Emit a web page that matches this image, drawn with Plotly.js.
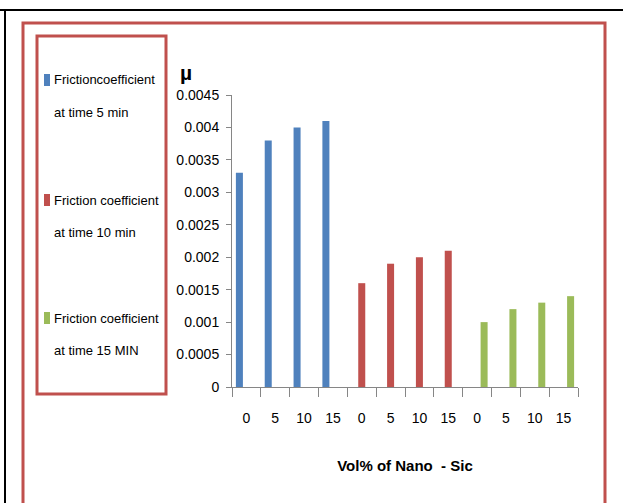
<!DOCTYPE html>
<html>
<head>
<meta charset="utf-8">
<script src="https://cdn.plot.ly/plotly-3.0.1.min.js"></script>
<style>html,body{margin:0;padding:0;background:#fff;}#chart{width:623px;height:503px;}</style>
</head>
<body>
<div id="chart"></div>
<script>
// ---- data ----
var tickLabels = ["0","5","10","15","0","5","10","15","0","5","10","15"];
var xIndex = [0,1,2,3,4,5,6,7,8,9,10,11];
var seriesNames = ["Friction coefficient at time 5 min","Friction coefficient at time 10 min","Friction coefficient at time 15 MIN"];
var legendLine1 = ["Frictioncoefficient","Friction coefficient","Friction coefficient"];
var legendLine2 = ["at time 5 min","at time 10 min","at time 15 MIN"];
var x5min = [0,1,2,3];
var y5min = [0.0033,0.0038,0.0040,0.0041];
var x10min = [4,5,6,7];
var y10min = [0.0016,0.0019,0.0020,0.0021];
var x15min = [8,9,10,11];
var y15min = [0.0010,0.0012,0.0013,0.0014];
var colors = ["#4F81BD","#C0504D","#9BBB59"];

var FONT = "Liberation Sans, Arial, sans-serif";

// plot area geometry helpers (pixel -> paper)
var L = 232, R = 45, T = 95, B = 116, W = 623, H = 503;
var PW = W - L - R, PH = H - T - B;
function px(x){ return (x - L) / PW; }
function py(y){ return (H - B - y) / PH; }

var xs = [x5min, x10min, x15min];
var ys = [y5min, y10min, y15min];
var groups = ["g5","g10","g15"];
var traces = [];
for (var i = 0; i < 3; i++) {
  traces.push({type:"bar", x: xs[i], y: ys[i], name: seriesNames[i], offsetgroup: groups[i],
    marker:{color: colors[i], line:{width:0}}, showlegend:false});
}

var boundaries = [];
for (var k = 0; k <= xIndex.length; k++) boundaries.push(k - 0.5);

var annotations = [];
var entryY = [80, 200, 318];
var lineGap = 32;
var shapes = [];
for (var j = 0; j < 3; j++) {
  annotations.push({xref:"paper", yref:"paper", x:px(52), y:py(entryY[j]), xanchor:"left", yanchor:"middle",
    text: legendLine1[j], showarrow:false, font:{family:FONT, size:13, color:"#000"}});
  annotations.push({xref:"paper", yref:"paper", x:px(52), y:py(entryY[j]+lineGap), xanchor:"left", yanchor:"middle",
    text: legendLine2[j], showarrow:false, font:{family:FONT, size:13, color:"#000"}});
  shapes.push({type:"rect", xref:"paper", yref:"paper", x0:px(44), x1:px(50), y0:py(entryY[j]-6), y1:py(entryY[j]+6),
    fillcolor: colors[j], line:{width:0}});
}
annotations.push({xref:"paper", yref:"paper", x:px(186), y:py(72), xanchor:"center", yanchor:"middle",
  text:"<b>µ</b>", showarrow:false, font:{family:FONT, size:21, color:"#000"}});

// frames
shapes.push({type:"line", xref:"paper", yref:"paper", x0:px(0), x1:px(623), y0:py(10), y1:py(10), line:{color:"#000", width:2}});
shapes.push({type:"line", xref:"paper", yref:"paper", x0:px(5), x1:px(5), y0:py(10), y1:py(510), line:{color:"#000", width:2}});
shapes.push({type:"rect", xref:"paper", yref:"paper", x0:px(23), x1:px(605), y0:py(23), y1:py(510), line:{color:"#C0504D", width:3}});
shapes.push({type:"rect", xref:"paper", yref:"paper", x0:px(37), x1:px(166), y0:py(36), y1:py(394), line:{color:"#C0504D", width:3}});

var layout = {
  width: W, height: H,
  margin:{l:L, r:R, t:T, b:B, pad:0},
  paper_bgcolor:"#fff", plot_bgcolor:"#fff",
  barmode:"group", bargap:0.27, bargroupgap:0,
  showlegend:false,
  font:{family:FONT, color:"#000"},
  xaxis:{
    range:[-0.5, 11.5], tickmode:"array", tickvals:xIndex, ticktext:tickLabels,
    ticks:"", showline:true, linecolor:"#868686", linewidth:1, showgrid:false, zeroline:false,
    tickfont:{family:FONT, size:14, color:"#000"}, ticklabelstandoff:18,
    minor:{tickmode:"array", tickvals:boundaries, ticks:"outside", ticklen:9, tickcolor:"#868686", tickwidth:1, showgrid:false},
    title:{text:"<b>Vol% of Nano  - Sic</b>", font:{family:FONT, size:15, color:"#000"}, standoff:35},
    fixedrange:true
  },
  yaxis:{
    range:[0, 0.0045], dtick:0.0005, tick0:0, tickformat:"~g",
    ticks:"outside", ticklen:5, tickcolor:"#868686", showline:true, linecolor:"#868686", linewidth:1,
    showgrid:false, zeroline:false, tickfont:{family:FONT, size:14, color:"#000"}, ticklabelstandoff:4,
    fixedrange:true
  },
  annotations: annotations,
  shapes: shapes
};

Plotly.newPlot("chart", traces, layout, {displayModeBar:false, staticPlot:true});
</script>
</body>
</html>
